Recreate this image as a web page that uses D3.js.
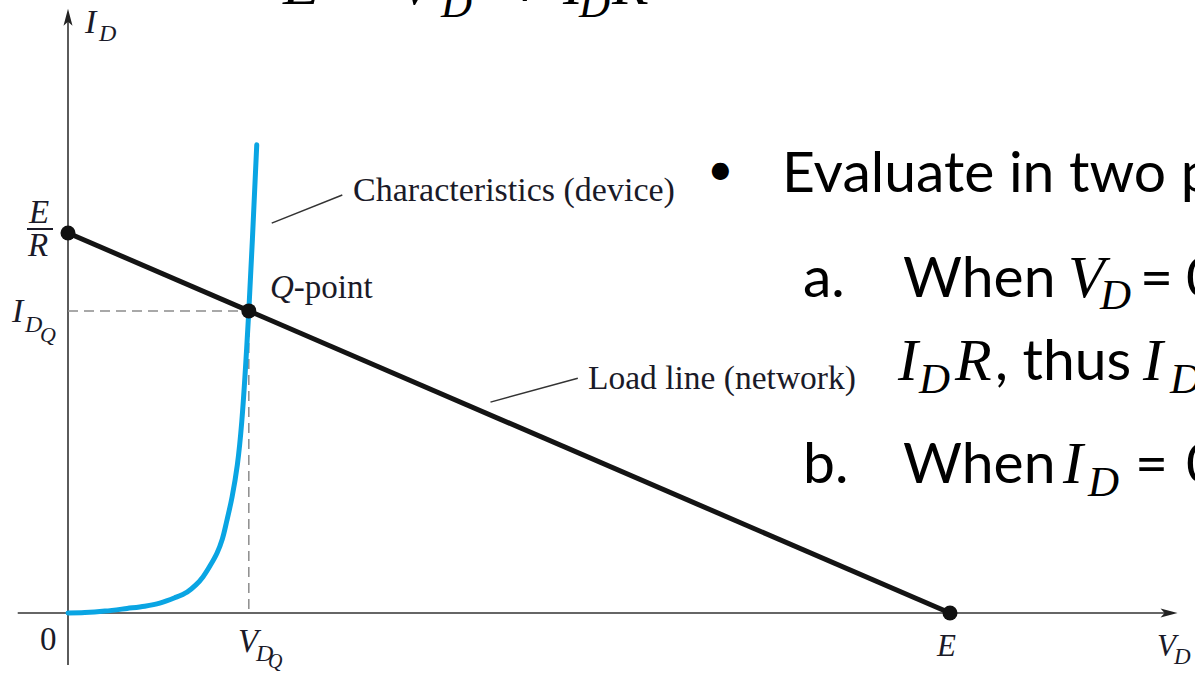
<!DOCTYPE html>
<html>
<head>
<meta charset="utf-8">
<script src="https://cdn.jsdelivr.net/npm/d3@7"></script>
<style>
  html, body { margin: 0; padding: 0; background: #fff; }
  svg { display: block; overflow: hidden; }
</style>
</head>
<body>
<svg id="chart" width="1195" height="675"></svg>
<script>
// Supply voltage E and short-circuit current E/R (normalised units)
const supplyE = 10;
const shortCurrent = 10;

// Load line end points: (0, E/R) and (E, 0)
const loadLineV = [0, 10];
const loadLineI = [10, 0];

// Diode characteristic I_D(V_D)
const diodeV = [0, 0.19, 0.42, 0.67, 0.87, 1.04, 1.21, 1.35, 1.45, 1.53, 1.61, 1.69, 1.75, 1.80, 1.86, 1.92, 1.97, 2.05, 2.14];
const diodeI = [0, 0.01, 0.05, 0.12, 0.18, 0.26, 0.40, 0.55, 0.74, 0.95, 1.24, 1.58, 1.95, 2.42, 3.05, 3.90, 5.03, 7.95, 12.32];

// Operating point
const qPointV = [2.05];
const qPointI = [7.95];

// Axis extents
const vAxisRange = [-0.57, 12.58];
const iAxisRange = [-1.37, 15.9];

// Leader lines (data units): [V0, I0, V1, I1]
const leaderDevice = [2.31, 10.26, 3.11, 11.0];
const leaderNetwork = [4.79, 5.55, 5.78, 6.18];

const svg = d3.select("#chart");
const x = d3.scaleLinear().domain([0, supplyE]).range([68, 950]);
const y = d3.scaleLinear().domain([0, shortCurrent]).range([613, 233]);

const ink = "#1a1a28";
const serif = "'Liberation Serif', 'Times New Roman', serif";

// ---- axes ----
const axisG = svg.append("g").attr("stroke", "#333").attr("stroke-width", 1.6);
axisG.append("line")
  .attr("x1", x(vAxisRange[0])).attr("x2", x(vAxisRange[1]) - 10)
  .attr("y1", y(0)).attr("y2", y(0));
axisG.append("line")
  .attr("x1", x(0)).attr("x2", x(0))
  .attr("y1", y(iAxisRange[0])).attr("y2", y(iAxisRange[1]) + 10);

// arrowheads
const xt = x(vAxisRange[1]), yt = y(iAxisRange[1]);
svg.append("path")
  .attr("d", `M${xt},${y(0)} L${xt - 17},${y(0) - 4.5} L${xt - 13},${y(0)} L${xt - 17},${y(0) + 4.5} Z`)
  .attr("fill", "#222");
svg.append("path")
  .attr("d", `M${x(0)},${yt} L${x(0) - 4.5},${yt + 17} L${x(0)},${yt + 13} L${x(0) + 4.5},${yt + 17} Z`)
  .attr("fill", "#222");

// ---- dashed projections of the Q-point ----
const dashG = svg.append("g")
  .attr("stroke", "#8c8c8c").attr("stroke-width", 1.5).attr("stroke-dasharray", "10,6");
dashG.append("line")
  .attr("x1", x(0)).attr("x2", x(qPointV[0]))
  .attr("y1", y(qPointI[0])).attr("y2", y(qPointI[0]));
dashG.append("line")
  .attr("x1", x(qPointV[0])).attr("x2", x(qPointV[0]))
  .attr("y1", y(qPointI[0])).attr("y2", y(0));

// ---- load line ----
const loadPts = loadLineV.map((v, i) => [v, loadLineI[i]]);
svg.append("path")
  .datum(loadPts)
  .attr("d", d3.line().x(d => x(d[0])).y(d => y(d[1])))
  .attr("fill", "none").attr("stroke", "#141414").attr("stroke-width", 5);

// ---- diode characteristic ----
const diodePts = diodeV.map((v, i) => [v, diodeI[i]]);
svg.append("path")
  .datum(diodePts)
  .attr("d", d3.line().x(d => x(d[0])).y(d => y(d[1])).curve(d3.curveCatmullRom.alpha(0.5)))
  .attr("fill", "none").attr("stroke", "#0aa5e3").attr("stroke-width", 5)
  .attr("stroke-linecap", "round");

// ---- points ----
const dots = [[loadLineV[0], loadLineI[0]], [qPointV[0], qPointI[0]], [loadLineV[1], loadLineI[1]]];
svg.selectAll("circle.pt").data(dots).join("circle")
  .attr("class", "pt")
  .attr("cx", d => x(d[0])).attr("cy", d => y(d[1])).attr("r", 7.5)
  .attr("fill", "#111");

// ---- leader lines ----
[leaderDevice, leaderNetwork].forEach(l => {
  svg.append("line")
    .attr("x1", x(l[0])).attr("y1", y(l[1])).attr("x2", x(l[2])).attr("y2", y(l[3]))
    .attr("stroke", "#333").attr("stroke-width", 1.5);
});

// ---- chart labels ----
function label(parts, fill) {
  const t = svg.append("text").attr("font-family", serif).attr("fill", fill || ink);
  parts.forEach(p => {
    t.append("tspan")
      .attr("x", p.x).attr("y", p.y)
      .attr("font-size", p.size)
      .attr("font-style", p.italic ? "italic" : "normal")
      .text(p.t);
  });
  return t;
}

// I_D (axis title)
label([{t: "I", x: 85, y: 33, size: 34, italic: true}, {t: "D", x: 99, y: 41, size: 24, italic: true}]);
// E/R
label([{t: "E", x: 29, y: 223, size: 33, italic: true}, {t: "R", x: 28, y: 256, size: 33, italic: true}]);
svg.append("line").attr("x1", 27).attr("x2", 53).attr("y1", 229).attr("y2", 229)
  .attr("stroke", ink).attr("stroke-width", 2);
// I_DQ
label([{t: "I", x: 12, y: 322, size: 34, italic: true}, {t: "D", x: 25, y: 332, size: 24, italic: true},
       {t: "Q", x: 40, y: 342, size: 22, italic: true}]);
// 0
label([{t: "0", x: 40, y: 650, size: 33}]);
// V_DQ
label([{t: "V", x: 238, y: 652, size: 33, italic: true}, {t: "D", x: 256, y: 661, size: 24, italic: true},
       {t: "Q", x: 268, y: 668, size: 20, italic: true}]);
// E
label([{t: "E", x: 937, y: 656, size: 31, italic: true}]);
// V_D
label([{t: "V", x: 1157, y: 656, size: 31, italic: true}, {t: "D", x: 1174, y: 664, size: 23, italic: true}]);

// annotations
label([{t: "Q", x: 270, y: 298, size: 33, italic: true}, {t: "-point", x: null, y: 298, size: 33}]);
label([{t: "Characteristics (device)", x: 353, y: 201, size: 34}]);
label([{t: "Load line (network)", x: 588, y: 389, size: 33.5}]);

// ---- slide text on the right ----
const sans = "Lato, 'Open Sans', sans-serif";
const mathF = "'Liberation Serif', 'DejaVu Serif', serif";
function rich(parts) {
  const t = svg.append("text").attr("fill", "#000");
  parts.forEach(p => {
    const s = t.append("tspan")
      .attr("font-family", p.math ? mathF : sans)
      .attr("font-style", p.math ? "italic" : "normal")
      .attr("font-size", p.size || 57)
      .text(p.t);
    if (p.x != null) s.attr("x", p.x);
    if (p.y != null) s.attr("y", p.y);
  });
}

// equation partly above the top edge
rich([
  {t: "E", x: 283, y: 4, math: true, size: 60},
  {t: "=", x: 340, y: -4, size: 58},
  {t: "V", x: 398, y: 4, math: true, size: 60},
  {t: "D", x: 441, y: 17, math: true, size: 43},
  {t: "+", x: 508, y: 6, size: 58},
  {t: "I", x: 563, y: 4, math: true, size: 60},
  {t: "D", x: 579, y: 17, math: true, size: 43},
  {t: "R", x: 612, y: 4, math: true, size: 60}
]);

rich([{t: "•", x: 707, y: 185, size: 46}, {t: "Evaluate in two points:", x: 782, y: 192}]);
rich([
  {t: "a.", x: 803, y: 297},
  {t: "When", x: 903, y: 297},
  {t: "V", x: 1068, y: 297, math: true, size: 60},
  {t: "D", x: 1100, y: 309, math: true, size: 43},
  {t: "=", x: 1140, y: 297},
  {t: "0, E = 0 +", x: 1186, y: 297}
]);
rich([
  {t: "I", x: 898, y: 380, math: true, size: 60},
  {t: "D", x: 919, y: 393, math: true, size: 43},
  {t: "R", x: 955, y: 380, math: true, size: 60},
  {t: ", thus", x: 995, y: 380},
  {t: "I", x: 1143, y: 380, math: true, size: 60},
  {t: "D", x: 1170, y: 393, math: true, size: 43},
  {t: "= E/R", x: 1212, y: 380}
]);
rich([
  {t: "b.", x: 803, y: 483},
  {t: "When", x: 903, y: 483},
  {t: "I", x: 1063, y: 483, math: true, size: 60},
  {t: "D", x: 1088, y: 496, math: true, size: 43},
  {t: "=", x: 1135, y: 483},
  {t: "0, E = V", x: 1186, y: 483}
]);
</script>
</body>
</html>
